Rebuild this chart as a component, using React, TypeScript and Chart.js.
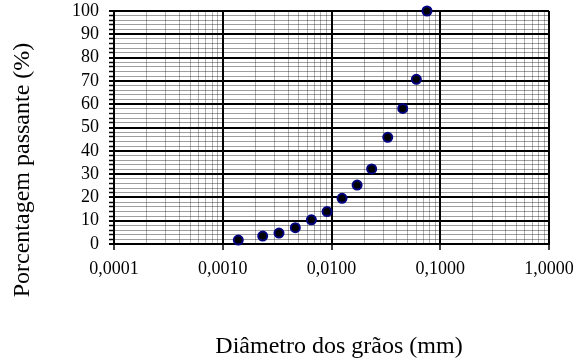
import React, { useEffect, useRef } from "react";
import { Chart, registerables } from "chart.js";

Chart.register(...registerables);

// Data
const diameters = [0.00139, 0.00233, 0.00329, 0.00465, 0.00653, 0.0091, 0.0125, 0.0172, 0.0234, 0.0329, 0.0452, 0.0603, 0.0755];
const passing = [1.7, 3.4, 4.7, 7.0, 10.4, 13.9, 19.6, 25.3, 32.2, 45.8, 58.2, 70.7, 100];

const xDecades = [0.0001, 0.001, 0.01, 0.1, 1];
const xTickLabels = ["0,0001", "0,0010", "0,0100", "0,1000", "1,0000"];
const yTickLabels = ["0", "10", "20", "30", "40", "50", "60", "70", "80", "90", "100"];

const xTitle = "Diâmetro dos grãos (mm)";
const yTitle = "Porcentagem passante (%)";

const FONT = '"Liberation Serif", "Times New Roman", serif';

function isDecade(v: number) {
  const l = Math.log10(v);
  return Math.abs(l - Math.round(l)) < 1e-6;
}

function buildLogTicks() {
  const vals: number[] = [];
  for (let i = 0; i < xDecades.length - 1; i++) {
    for (let m = 1; m <= 9; m++) {
      vals.push(Number((m * xDecades[i]).toPrecision(6)));
    }
  }
  vals.push(xDecades[xDecades.length - 1]);
  return vals;
}

const titlePlugin = {
  id: "axisTitles",
  afterDraw(chart: any) {
    const ctx = chart.ctx;
    ctx.save();
    ctx.fillStyle = "#000";
    ctx.font = `24px ${FONT}`;
    ctx.textAlign = "center";
    ctx.textBaseline = "alphabetic";
    ctx.fillText(xTitle, 339, 353);
    ctx.translate(29, 170);
    ctx.rotate(-Math.PI / 2);
    ctx.fillText(yTitle, 0, 0);
    ctx.restore();
  },
};

export default function App() {
  const ref = useRef<HTMLCanvasElement | null>(null);

  useEffect(() => {
    if (!ref.current) return;
    const logTicks = buildLogTicks();
    const chart = new Chart(ref.current, {
      type: "scatter",
      data: {
        datasets: [
          {
            data: diameters.map((d, i) => ({ x: d, y: passing[i] })),
            backgroundColor: "#000000",
            borderColor: "#000080",
            borderWidth: 2,
            pointRadius: 4.5,
            showLine: false,
            clip: false as any,
          },
        ],
      },
      options: {
        responsive: false,
        animation: false,
        layout: { padding: { left: 0, top: 11, right: 30, bottom: 0 } },
        plugins: {
          legend: { display: false },
          tooltip: { enabled: false },
        },
        scales: {
          x: {
            type: "logarithmic",
            min: xDecades[0],
            max: xDecades[xDecades.length - 1],
            afterBuildTicks: (scale: any) => {
              scale.ticks = logTicks.map((v) => ({ value: v, major: isDecade(v) }));
            },
            afterFit: (scale: any) => {
              scale.height = 116;
              scale.paddingLeft = 0;
              scale.paddingRight = 0;
            },
            ticks: {
              autoSkip: false,
              maxRotation: 0,
              padding: 8,
              color: "#000",
              font: { family: FONT, size: 18 },
              callback: (value: any) => {
                const v = Number(value);
                const idx = xDecades.findIndex((d) => Math.abs(d - v) / d < 1e-6);
                return idx >= 0 ? xTickLabels[idx] : "";
              },
            },
            grid: {
              color: (c: any) => (c.tick && isDecade(c.tick.value) ? "#000" : "rgba(0,0,0,0.3)"),
              lineWidth: (c: any) => (c.tick && isDecade(c.tick.value) ? 2 : 1),
              tickColor: (c: any) => (c.tick && isDecade(c.tick.value) ? "#000" : "rgba(0,0,0,0)"),
              tickLength: 6,
              tickWidth: 1.5,
            },
            border: { display: true, color: "#000", width: 2 },
          },
          y: {
            type: "linear",
            min: 0,
            max: 100,
            afterFit: (scale: any) => {
              scale.width = 114;
              scale.paddingTop = 0;
              scale.paddingBottom = 0;
            },
            ticks: {
              stepSize: 2,
              autoSkip: false,
              padding: 10,
              color: "#000",
              font: { family: FONT, size: 18 },
              callback: (value: any) => {
                const v = Number(value);
                return v % 10 === 0 ? yTickLabels[v / 10] : "";
              },
            },
            grid: {
              color: (c: any) => (c.tick && c.tick.value % 10 === 0 ? "#000" : "rgba(0,0,0,0.38)"),
              lineWidth: (c: any) => (c.tick && c.tick.value % 10 === 0 ? 2 : 1),
              borderDash: (c: any) => (c.tick && c.tick.value % 10 === 0 ? [] : [3, 2]),
              tickColor: "#000",
              tickLength: 5,
              tickWidth: (c: any) => (c.tick && c.tick.value % 10 === 0 ? 2 : 1.5),
            } as any,
            border: { display: true, color: "#000", width: 2 },
          },
        },
      } as any,
      plugins: [titlePlugin],
    });
    return () => chart.destroy();
  }, []);

  return (
    <div style={{ position: "fixed", left: 0, top: 0, width: 579, height: 360, background: "#fff" }}>
      <canvas ref={ref} width={579} height={360} style={{ display: "block" }} />
    </div>
  );
}
